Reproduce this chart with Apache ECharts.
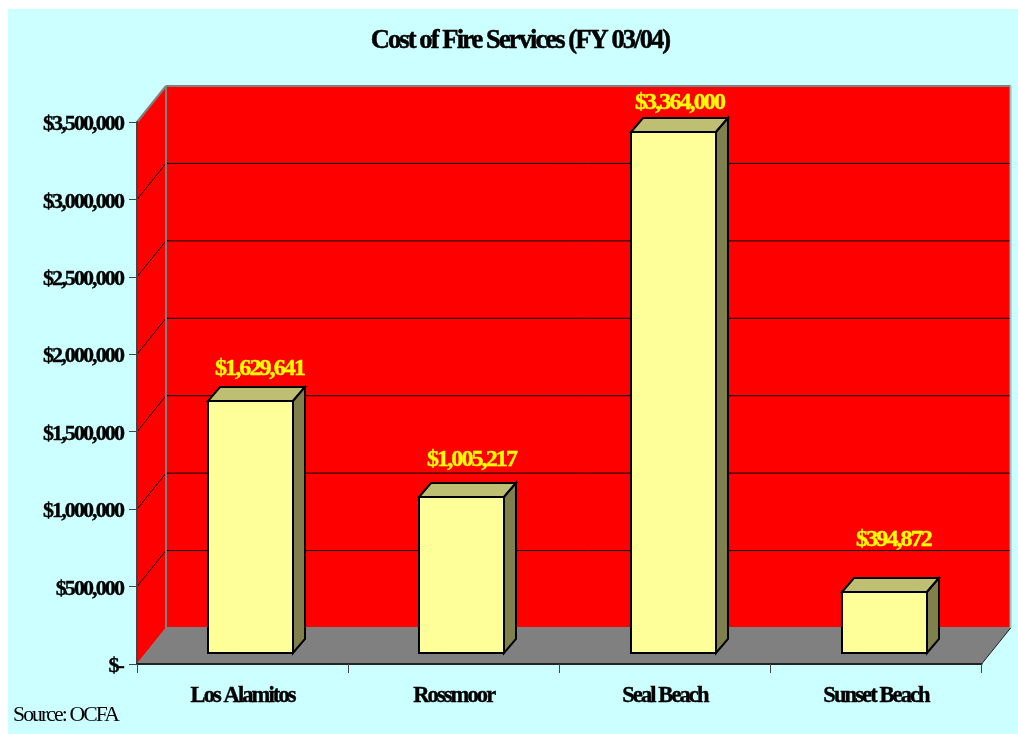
<!DOCTYPE html>
<html>
<head>
<meta charset="utf-8">
<style>html,body{margin:0;padding:0;background:#fff}#c{width:1018px;height:734px}</style>
<script>
// Tight glyph spacing of the original text
(function () {
  var orig = HTMLCanvasElement.prototype.getContext;
  HTMLCanvasElement.prototype.getContext = function (t) {
    var ctx = orig.apply(this, arguments);
    if (t === '2d' && ctx) ctx.letterSpacing = '-1.9px';
    return ctx;
  };
})();
</script>
<script src="https://cdn.jsdelivr.net/npm/echarts@6/dist/echarts.min.js"></script>
</head>
<body>
<div id="c"></div>
<script>
var titleText = 'Cost of Fire Services (FY 03/04)';
var sourceText = 'Source: OCFA';
var categories = ['Los Alamitos', 'Rossmoor', 'Seal Beach', 'Sunset Beach'];
var costs = [1629641, 1005217, 3364000, 394872];
var costLabels = ['$1,629,641', '$1,005,217', '$3,364,000', '$394,872'];
var yTicks = [0, 500000, 1000000, 1500000, 2000000, 2500000, 3000000, 3500000];
var yTickLabels = ['$-', '$500,000', '$1,000,000', '$1,500,000', '$2,000,000', '$2,500,000', '$3,000,000', '$3,500,000'];

// layout of the pseudo-3D box (pixels)
var wallDX = 29, wallDY = -36, barDX = 12, barDY = -14, barInX = 8.2, barInY = -11, barW = 85;
var labelLift = [18, 23, 15, 38];
var labelShift = [9, 10, 6, 9];
var serif = '"Liberation Serif", "Times New Roman", serif';

function renderBox(params, api) {
  var cs = params.coordSys, L = cs.x, R = cs.x + cs.width;
  var y0 = api.coord([0, 0])[1], yT = api.coord([0, yTicks[yTicks.length - 1]])[1];
  function poly(pts, fill) {
    return { type: 'polygon', shape: { points: pts }, style: { fill: fill, stroke: null }, silent: true };
  }
  function line(x1, y1, x2, y2, c, w) {
    return { type: 'line', shape: { x1: x1, y1: y1, x2: x2, y2: y2 }, style: { stroke: c, lineWidth: w }, silent: true };
  }
  var bx = L + wallDX, bR = R + wallDX, by0 = y0 + wallDY, byT = yT + wallDY;
  var kids = [
    poly([[bx, byT], [bR, byT], [bR, by0], [bx, by0]], '#ff0000'),
    poly([[L, yT], [bx, byT], [bx, by0], [L, y0]], '#ff0000'),
    poly([[L, y0], [bx, by0], [bR, by0], [R, y0]], '#808080')
  ];
  yTicks.forEach(function (v) {
    if (v === 0 || v === yTicks[yTicks.length - 1]) return;
    var y = api.coord([0, v])[1];
    kids.push(line(L, y, bx, y + wallDY, '#000', 1));
    kids.push(line(bx, y + wallDY, bR, y + wallDY, '#000', 1));
  });
  kids.push(line(L, yT, bx, byT, '#808080', 2));
  kids.push(line(bx, byT, bR, byT, '#808080', 2));
  kids.push(line(bx, byT, bx, by0, '#808080', 2));
  kids.push(line(bx, by0, bR, by0, '#808080', 2));
  kids.push(line(L, y0, bx, by0, '#808080', 1));
  kids.push(line(bR, byT, bR, by0, '#9fbfbf', 2));
  kids.push(line(R, y0, bR, by0, '#202020', 1));
  return { type: 'group', children: kids };
}

function renderBar(params, api) {
  var i = api.value(0), v = api.value(1);
  var c = api.coord([i, v]), base = api.coord([i, 0]);
  var l = Math.round(c[0] + barInX - barW / 2), r = l + barW;
  var t = Math.round(c[1] + barInY), b = Math.round(base[1] + barInY);
  var st = function (f) { return { fill: f, stroke: '#000', lineWidth: 2, lineJoin: 'miter' }; };
  return {
    type: 'group',
    children: [
      { type: 'polygon', shape: { points: [[l, t], [r, t], [r + barDX, t + barDY], [l + barDX, t + barDY]] }, style: st('#bfbf73') },
      { type: 'polygon', shape: { points: [[r, t], [r + barDX, t + barDY], [r + barDX, b + barDY], [r, b]] }, style: st('#80804d') },
      { type: 'rect', shape: { x: l, y: t, width: barW, height: b - t }, style: st('#ffff99') },
      { type: 'text', style: {
          text: costLabels[i], x: (l + r) / 2 + labelShift[i], y: t + barDY - labelLift[i],
          fill: '#ffff00', stroke: '#ffff00', lineWidth: 0.4, font: 'bold 24px ' + serif, textAlign: 'center', textVerticalAlign: 'middle'
      } }
    ]
  };
}

var chart = echarts.init(document.getElementById('c'), null, { renderer: 'canvas' });
chart.setOption({
  animation: false,
  backgroundColor: '#ffffff',
  graphic: [{ type: 'rect', z: -10, silent: true, shape: { x: 8, y: 9, width: 1010, height: 725 }, style: { fill: '#ccffff' } }],
  title: [
    { text: titleText, left: 515, top: 24, textAlign: 'center',
      textStyle: { fontFamily: serif, fontWeight: 'bold', fontSize: 26.5, color: '#000', textBorderColor: '#000', textBorderWidth: 0.5 } },
    { text: sourceText, left: 8, top: 700,
      textStyle: { fontFamily: serif, fontWeight: 'normal', fontSize: 21.7, color: '#000' } }
  ],
  grid: { left: 137, top: 122, width: 844.6, height: 542 },
  tooltip: { show: false },
  xAxis: {
    type: 'category', data: categories, z: 5,
    axisLine: { show: true, lineStyle: { color: '#222', width: 2 } },
    axisTick: { show: true, alignWithLabel: false, length: 9, lineStyle: { color: '#444', width: 1 } },
    axisLabel: { margin: 22, interval: 0, color: '#000', fontFamily: serif, fontWeight: 'bold', fontSize: 22.5, textBorderColor: '#000', textBorderWidth: 0.4 },
    splitLine: { show: false }
  },
  yAxis: {
    type: 'value', min: 0, max: 3500000, interval: 500000, z: 5,
    axisLine: { show: true, lineStyle: { color: '#444', width: 2 } },
    axisTick: { show: true, length: 8, lineStyle: { color: '#444', width: 1 } },
    axisLabel: { margin: 14, color: '#000',
      rich: { t: { fontFamily: serif, fontWeight: 'bold', fontSize: 22, color: '#000', textBorderColor: '#000', textBorderWidth: 0.4, padding: [5, 0, 0, 0] } },
      formatter: function (v) { return '{t|' + yTickLabels[yTicks.indexOf(v)] + '}'; } },
    splitLine: { show: false }
  },
  series: [
    { type: 'custom', name: 'walls', z: 1, silent: true, coordinateSystem: 'cartesian2d', clip: false,
      data: [[0, 0]], renderItem: renderBox },
    { type: 'custom', name: 'Cost', z: 10, silent: true, coordinateSystem: 'cartesian2d', clip: false,
      encode: { x: 0, y: 1 },
      data: costs.map(function (v, i) { return [i, v]; }), renderItem: renderBar }
  ]
});
</script>
</body>
</html>
